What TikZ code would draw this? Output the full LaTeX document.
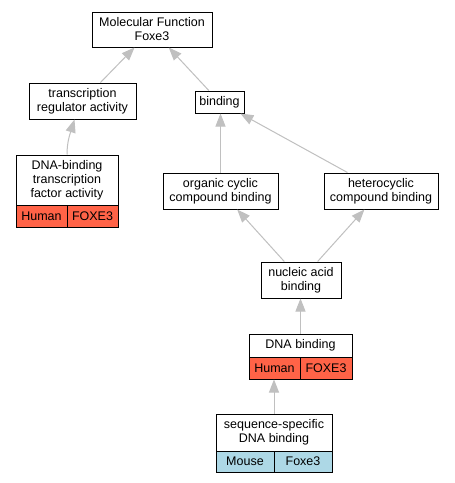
\documentclass[tikz,border=0pt]{standalone}
\usepackage{fontspec}
\setmainfont{Liberation Sans}
\usetikzlibrary{arrows.meta}
\definecolor{edgegray}{HTML}{C0C0C0}
\definecolor{humanred}{HTML}{FF6347}
\definecolor{mouseblue}{HTML}{ADD8E6}
\tikzset{
  box/.style={draw=black, line width=1pt, fill=white, inner sep=0pt, align=center, font=\fontsize{12.5}{14}\selectfont},
  outer/.style={draw=black, line width=1pt, inner sep=0pt},
  cellh/.style={draw=black, line width=1pt, fill=humanred, inner sep=0pt, font=\fontsize{12.5}{14}\selectfont},
  cellm/.style={draw=black, line width=1pt, fill=mouseblue, inner sep=0pt, font=\fontsize{12.5}{14}\selectfont},
  edge/.style={draw=edgegray, line width=1pt, -{Triangle[length=13pt,width=10pt]}}
}
\begin{document}
\begin{tikzpicture}[x=1pt,y=-1pt]
\useasboundingbox[fill=white] (0,0) rectangle (455,483);
% simple boxes
\node[box, minimum width=120pt, minimum height=35pt] (mf) at (152,29.5) {Molecular Function\\Foxe3};
\node[box, minimum width=107pt, minimum height=36pt] (tra) at (82.5,101) {transcription\\regulator activity};
\node[box, minimum width=49pt, minimum height=22pt] (bind) at (219.5,102) {binding};
\node[box, minimum width=115pt, minimum height=36pt] (occ) at (220.5,191) {organic cyclic\\compound binding};
\node[box, minimum width=114pt, minimum height=36pt] (het) at (381,191) {heterocyclic\\compound binding};
\node[box, minimum width=80pt, minimum height=36pt] (nab) at (301,280) {nucleic acid\\binding};
% DNA-binding transcription factor activity
\node[box, minimum width=102pt, minimum height=50pt] (dbtl) at (67,180) {DNA-binding\\transcription\\factor activity};
\node[cellh, minimum width=51pt, minimum height=22pt] (dbth) at (41.5,216) {Human};
\node[cellh, minimum width=51pt, minimum height=22pt] (dbtf) at (92.5,216) {FOXE3};
\node[outer, minimum width=102pt, minimum height=72pt] (dbt) at (67,191) {};
% DNA binding
\node[box, minimum width=103pt, minimum height=23pt] (dnabl) at (300.5,345.5) {DNA binding};
\node[cellh, minimum width=51pt, minimum height=22pt] (dnabh) at (274.5,368) {Human};
\node[cellh, minimum width=52pt, minimum height=22pt] (dnabf) at (326,368) {FOXE3};
\node[outer, minimum width=103pt, minimum height=45pt] (dnab) at (300.5,356.5) {};
% sequence-specific DNA binding
\node[box, minimum width=116pt, minimum height=37pt] (seql) at (274,432.5) {sequence-specific\\DNA binding};
\node[cellm, minimum width=58pt, minimum height=21pt] (seqm) at (245,461.5) {Mouse};
\node[cellm, minimum width=58pt, minimum height=21pt] (seqf) at (303,461.5) {Foxe3};
\node[outer, minimum width=116pt, minimum height=58pt] (seq) at (274,443) {};
% edges
\draw[edge] (tra) -- (mf);
\draw[edge] (bind) -- (mf);
\draw[edge] (dbt.north) .. controls (67,142) and (70,134) .. ([xshift=-8pt]tra.south);
\draw[edge] (occ.north) -- (occ.north |- bind.south);
\draw[edge] (het) -- (bind);
\draw[edge] (nab) -- (occ);
\draw[edge] (nab) -- (het);
\draw[edge] (dnab.north) -- (dnab.north |- nab.south);
\draw[edge] (seq.north) -- (seq.north |- dnab.south);
\end{tikzpicture}
\end{document}
